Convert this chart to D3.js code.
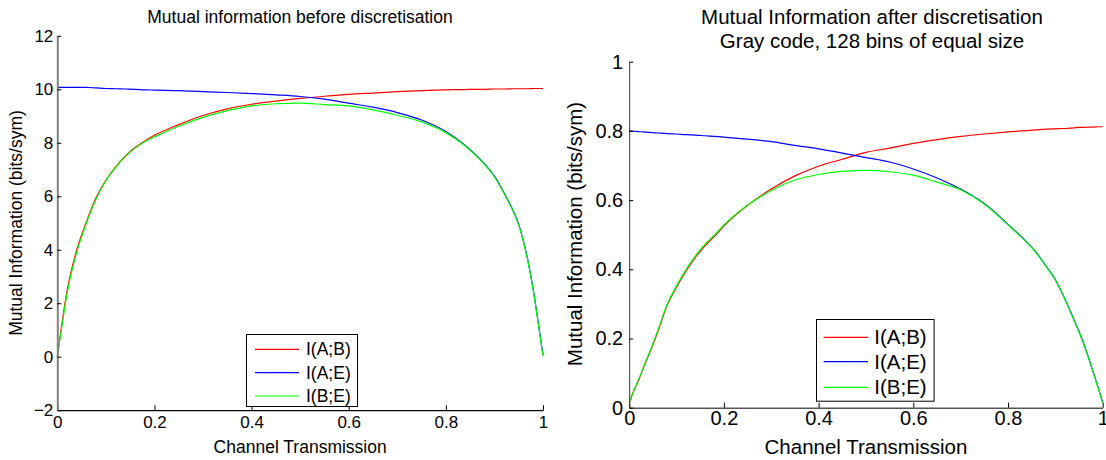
<!DOCTYPE html>
<html>
<head>
<meta charset="utf-8">
<script src="https://cdn.jsdelivr.net/npm/d3@7"></script>
<style>
  html, body { margin: 0; padding: 0; background: #fff; }
  svg { display: block; }
  text { font-family: "Liberation Sans", Arial, Helvetica, sans-serif; fill: #000; }
</style>
</head>
<body>
<svg id="fig" width="1106" height="460"></svg>
<script>
// Channel transmission sample points (shared by both panels)
const transmission = [0, 0.01, 0.02, 0.03, 0.04, 0.05, 0.06, 0.08, 0.10, 0.12, 0.14, 0.16, 0.18, 0.20,
  0.25, 0.30, 0.35, 0.40, 0.45, 0.50, 0.55, 0.60, 0.65, 0.70, 0.75, 0.80, 0.84, 0.86, 0.88, 0.90,
  0.92, 0.94, 0.95, 0.96, 0.97, 0.98, 0.99, 1.0];

// Mutual information before discretisation (bits/sym)
const beforeAB = [0.0, 1.3, 2.45, 3.3, 3.99, 4.55, 5.05, 5.95, 6.6, 7.1, 7.5, 7.82, 8.07, 8.28,
  8.68, 9.02, 9.27, 9.44, 9.56, 9.66, 9.74, 9.81, 9.86, 9.91, 9.95, 9.98, 9.99, 10.0, 10.0, 10.01,
  10.01, 10.02, 10.02, 10.02, 10.02, 10.03, 10.03, 10.03];
const beforeAE = [10.07, 10.07, 10.07, 10.07, 10.07, 10.07, 10.07, 10.05, 10.03, 10.02, 10.01, 10.0, 9.98, 9.97,
  9.95, 9.91, 9.88, 9.84, 9.79, 9.73, 9.63, 9.48, 9.33, 9.13, 8.85, 8.42, 7.9, 7.57, 7.2, 6.75,
  6.12, 5.4, 4.95, 4.3, 3.5, 2.5, 1.3, 0.05];
const beforeBE = [0.0, 1.2, 2.35, 3.2, 3.9, 4.48, 5.0, 5.9, 6.58, 7.08, 7.48, 7.8, 8.04, 8.22,
  8.62, 8.95, 9.2, 9.38, 9.46, 9.48, 9.43, 9.38, 9.23, 9.03, 8.78, 8.38, 7.88, 7.55, 7.18, 6.73,
  6.1, 5.38, 4.93, 4.28, 3.48, 2.48, 1.28, 0.03];

// Mutual information after discretisation, Gray code, 128 equal bins (bits/sym)
const afterAB = [0.015, 0.05, 0.08, 0.115, 0.148, 0.182, 0.218, 0.295, 0.348, 0.395, 0.435, 0.468, 0.495, 0.525,
  0.585, 0.632, 0.670, 0.698, 0.718, 0.738, 0.750, 0.764, 0.775, 0.784, 0.791, 0.797, 0.801, 0.803, 0.805, 0.806,
  0.807, 0.809, 0.810, 0.810, 0.811, 0.811, 0.812, 0.812];
const afterAE = [0.800, 0.799, 0.798, 0.797, 0.796, 0.795, 0.794, 0.792, 0.791, 0.789, 0.788, 0.786, 0.784, 0.782,
  0.776, 0.769, 0.758, 0.748, 0.736, 0.723, 0.710, 0.690, 0.664, 0.632, 0.590, 0.530, 0.478, 0.448, 0.410, 0.370,
  0.315, 0.252, 0.220, 0.185, 0.145, 0.103, 0.060, 0.015];
const afterBE = [0.015, 0.05, 0.082, 0.117, 0.150, 0.185, 0.221, 0.298, 0.352, 0.399, 0.439, 0.472, 0.499, 0.528,
  0.585, 0.628, 0.658, 0.674, 0.683, 0.686, 0.682, 0.672, 0.652, 0.630, 0.589, 0.529, 0.477, 0.447, 0.409, 0.369,
  0.314, 0.251, 0.219, 0.184, 0.144, 0.102, 0.059, 0.014];

const seriesNames = ["I(A;B)", "I(A;E)", "I(B;E)"];
const seriesColors = ["#ff0000", "#0000ff", "#00ff00"];

const xTicks = [0, 0.2, 0.4, 0.6, 0.8, 1];
const beforeYTicks = [-2, 0, 2, 4, 6, 8, 10, 12];
const afterYTicks = [0, 0.2, 0.4, 0.6, 0.8, 1];

const xLabel = "Channel Transmission";
const yLabel = "Mutual Information (bits/sym)";

const svg = d3.select("#fig");

function drawPanel(cfg) {
  const g = svg.append("g");
  const x = d3.scaleLinear().domain([0, 1]).range([cfg.left, cfg.right]);
  const y = d3.scaleLinear().domain(cfg.yDomain).range([cfg.bottom, cfg.top]);

  // curves
  const line = d3.line()
    .x((d, i) => x(transmission[i]))
    .y(d => y(d))
    .curve(d3.curveMonotoneX);
  cfg.series.forEach((s, k) => {
    g.append("path")
      .datum(s)
      .attr("fill", "none")
      .attr("stroke", seriesColors[k])
      .attr("stroke-width", 1.2)
      .attr("stroke-linejoin", "round")
      .attr("d", line);
  });

  const fmt = v => (v < 0 ? "\u2212" + Math.abs(v) : String(v));

  // x axis, ticks pointing into the plot
  const xa = g.append("g")
    .attr("transform", `translate(0,${cfg.bottom})`)
    .call(d3.axisBottom(x).tickValues(xTicks).tickFormat(fmt)
      .tickSizeInner(-5).tickSizeOuter(0).tickPadding(cfg.xPad));
  xa.select(".domain").attr("stroke", cfg.xAxisColor).attr("stroke-width", cfg.xAxisWidth);
  xa.selectAll(".tick line").attr("stroke", "#000");
  xa.selectAll("text").style("font-size", cfg.fs + "px").attr("fill", "#000");

  // y axis
  const ya = g.append("g")
    .attr("transform", `translate(${cfg.left},0)`)
    .call(d3.axisLeft(y).tickValues(cfg.yTicks).tickFormat(fmt)
      .tickSizeInner(-4).tickSizeOuter(0).tickPadding(cfg.yPad));
  ya.select(".domain").attr("stroke", cfg.yAxisColor).attr("stroke-width", cfg.yAxisWidth);
  ya.selectAll(".tick line").attr("stroke", "#000");
  ya.selectAll("text").style("font-size", cfg.fs + "px").attr("fill", "#000");

  // titles
  cfg.title.forEach((t, i) => {
    g.append("text")
      .attr("x", cfg.titleX)
      .attr("y", cfg.titleY[i])
      .attr("dy", "0.35em")
      .attr("text-anchor", "middle")
      .style("font-size", cfg.titleFs + "px")
      .text(t);
  });

  // axis labels
  g.append("text")
    .attr("x", (cfg.left + cfg.right) / 2)
    .attr("y", cfg.xLabelY)
    .attr("dy", "0.35em")
    .attr("text-anchor", "middle")
    .style("font-size", cfg.labelFs + "px")
    .text(xLabel);
  g.append("text")
    .attr("transform", `translate(${cfg.yLabelX},${cfg.yLabelY}) rotate(-90)`)
    .attr("dy", "0.35em")
    .attr("text-anchor", "middle")
    .style("font-size", cfg.labelFs + "px")
    .text(yLabel);

  // legend
  const L = cfg.legend;
  const lg = g.append("g");
  lg.append("rect")
    .attr("x", L.x0 + 0.5).attr("y", L.y0 + 0.5)
    .attr("width", L.x1 - L.x0).attr("height", L.y1 - L.y0)
    .attr("fill", "#fff").attr("stroke", "#000").attr("stroke-width", 1);
  seriesNames.forEach((name, k) => {
    const yy = L.rows[k];
    lg.append("line")
      .attr("x1", L.lx0).attr("x2", L.lx1)
      .attr("y1", yy).attr("y2", yy)
      .attr("stroke", seriesColors[k]).attr("stroke-width", 1.2);
    lg.append("text")
      .attr("x", L.tx).attr("y", yy)
      .attr("dy", "0.35em")
      .style("font-size", L.fs + "px")
      .text(name);
  });
}

drawPanel({
  left: 57.3, right: 543, top: 35.8, bottom: 410.2,
  yDomain: [-2, 12], yTicks: beforeYTicks,
  series: [beforeAB, beforeAE, beforeBE],
  fs: 17, xPad: 6, yPad: 4,
  xAxisColor: "#000", xAxisWidth: 1.2, yAxisColor: "#808080", yAxisWidth: 2,
  title: ["Mutual information before discretisation"], titleX: 300, titleY: [16.5], titleFs: 17.5,
  xLabelY: 446.5, yLabelX: 16, yLabelY: 223, labelFs: 17.5,
  legend: { x0: 246, x1: 357, y0: 334, y1: 406, lx0: 255, lx1: 299, tx: 306,
            rows: [349.3, 372.7, 396], fs: 17.5 }
});

drawPanel({
  left: 629.2, right: 1102.7, top: 61.7, bottom: 407.7,
  yDomain: [0, 1], yTicks: afterYTicks,
  series: [afterAB, afterAE, afterBE],
  fs: 20, xPad: 3, yPad: 6,
  xAxisColor: "#555", xAxisWidth: 1.5, yAxisColor: "#333", yAxisWidth: 1,
  title: ["Mutual Information after discretisation", "Gray code, 128 bins of equal size"],
  titleX: 872, titleY: [17, 40.5], titleFs: 20.5,
  xLabelY: 446.5, yLabelX: 575, yLabelY: 234, labelFs: 20.5,
  legend: { x0: 816, x1: 933.6, y0: 319, y1: 400.7, lx0: 823.6, lx1: 868, tx: 874.3,
            rows: [337.3, 361.7, 387.3], fs: 20.5 }
});
</script>
</body>
</html>
